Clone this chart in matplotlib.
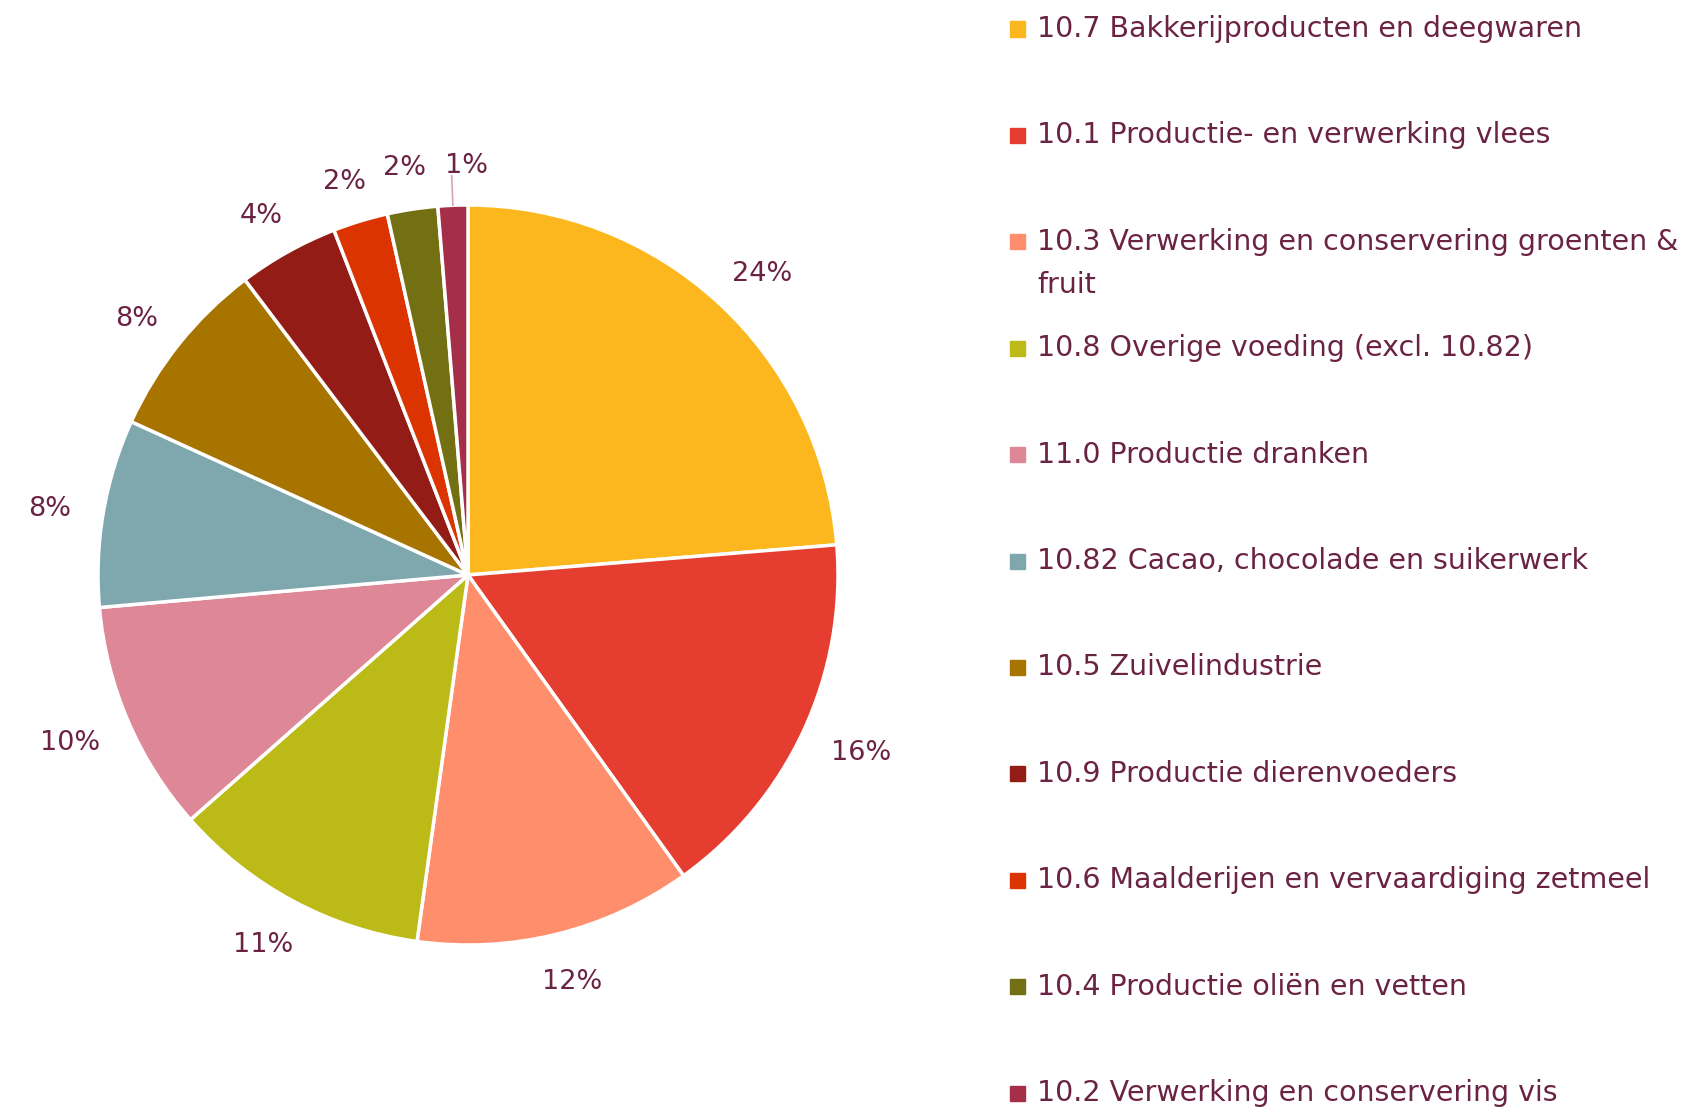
import numpy as np
import matplotlib.pyplot as plt
from matplotlib.patches import Rectangle

plt.rcParams['font.family'] = ['DejaVu Sans']

categories = [
    '10.7 Bakkerijproducten en deegwaren',
    '10.1 Productie- en verwerking vlees',
    '10.3 Verwerking en conservering groenten &\nfruit',
    '10.8 Overige voeding (excl. 10.82)',
    '11.0 Productie dranken',
    '10.82 Cacao, chocolade en suikerwerk',
    '10.5 Zuivelindustrie',
    '10.9 Productie dierenvoeders',
    '10.6 Maalderijen en vervaardiging zetmeel',
    '10.4 Productie oliën en vetten',
    '10.2 Verwerking en conservering vis',
]
shares = [23.7, 16.4, 12.1, 11.3, 10.1, 8.2, 7.9, 4.4, 2.4, 2.2, 1.3]
colors = ['#FDB71E', '#E53E30', '#FF8F6C', '#BCBA16', '#DE8796', '#7FA7AE',
          '#A87400', '#931C16', '#DC3400', '#727012', '#A52E48']

text_color = '#6B2343'

fig = plt.figure(figsize=(16.97, 11.13), dpi=100)
ax = fig.add_axes([5.5 / 1697, 75.5 / 1113, 925 / 1697, 925 / 1113])

wedges, _ = ax.pie(shares, colors=colors, startangle=90, counterclock=False,
                   wedgeprops=dict(edgecolor='white', linewidth=2.5))
ax.set_xlim(-1.25, 1.25)
ax.set_ylim(-1.25, 1.25)
ax.set_aspect('equal')

renderer = fig.canvas.get_renderer()

# percentage labels outside the pie, text box pushed out like "outside end"
total = sum(shares)
cum = 0
for i, v in enumerate(shares):
    mid = 90 - (cum + v / 2) / total * 360
    cum += v
    a = np.deg2rad(mid)
    pct = '%d%%' % round(v / total * 100)
    if i == len(shares) - 1:
        # small slice gets a leader line
        ax.plot([np.cos(a) * 1.0, np.cos(a) * 1.08], [np.sin(a) * 1.0, np.sin(a) * 1.08],
                color='#D9A3BD', lw=1.2)
        ax.text(-0.005, 1.105, pct, ha='center', va='center', fontsize=19.5, color=text_color)
        continue
    t = ax.annotate(pct, (np.cos(a) * 1.09, np.sin(a) * 1.09), xytext=(0, 0),
                    textcoords='offset pixels', ha='center', va='center',
                    fontsize=19.5, color=text_color)
    bb = t.get_window_extent(renderer)
    t.set_position((bb.width / 2 * np.cos(a), 12 * np.sin(a) - 4))

# legend on the right
y0 = 1 - 29 / 1113
step = 106.4 / 1113
for i, (lab, c) in enumerate(zip(categories, colors)):
    y = y0 - i * step
    fig.patches.append(Rectangle((1010 / 1697, y - 7.5 / 1113), 15 / 1697, 15 / 1113,
                                 transform=fig.transFigure, color=c))
    lines = lab.split('\n')
    for j, line in enumerate(lines):
        fig.text(1037 / 1697, y - j * 43 / 1113, line, ha='left', va='center',
                 fontsize=20.5, color=text_color)

fig.savefig('out.png')
